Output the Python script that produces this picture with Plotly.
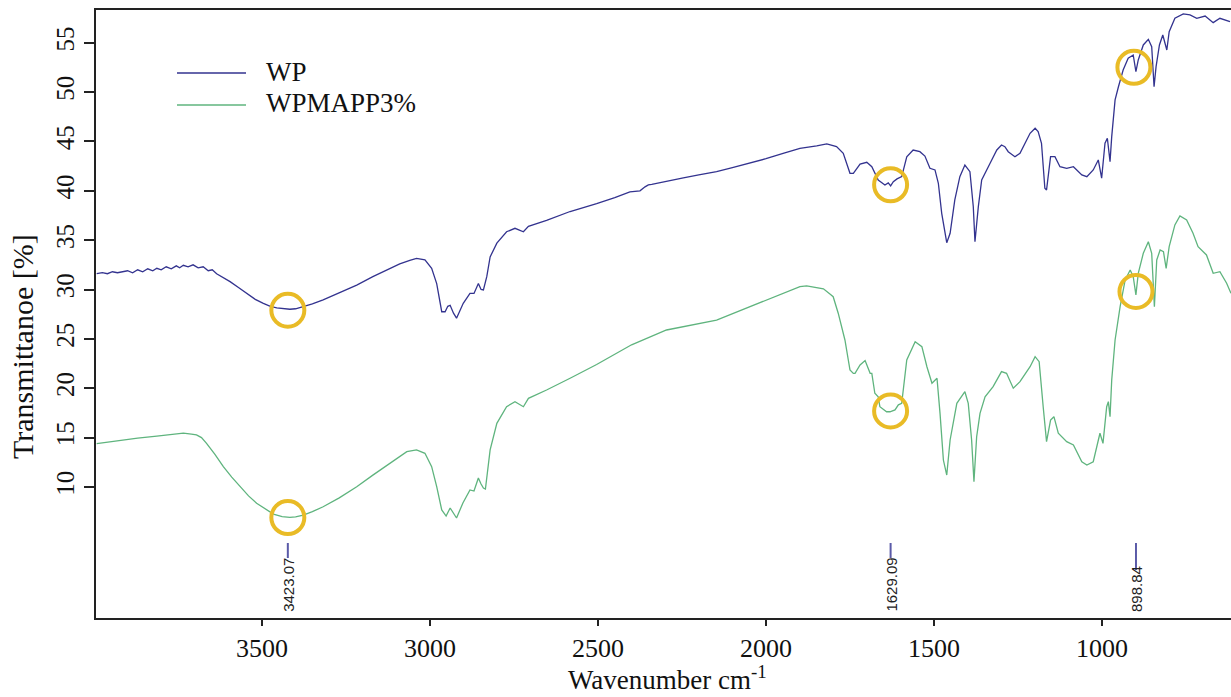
import plotly.graph_objects as go

# ---------------- data ----------------
wp_wn = [3992, 3975, 3960, 3945, 3930, 3913, 3900, 3885, 3870, 3855, 3840, 3825, 3813, 3800,
         3785, 3770, 3755, 3745, 3734, 3720, 3705, 3690, 3675, 3660, 3648, 3635, 3620, 3605,
         3595, 3570, 3545, 3520, 3496, 3475, 3456, 3435, 3417, 3400, 3377, 3350, 3318, 3270,
         3218, 3170, 3119, 3090, 3060, 3040, 3015, 2995, 2980, 2965, 2955, 2947, 2940, 2930,
         2921, 2910, 2901, 2881, 2869, 2856, 2848, 2841, 2831, 2821, 2801, 2772, 2747, 2722,
         2707, 2653, 2583, 2504, 2450, 2405, 2375, 2360, 2350, 2340, 2300, 2246, 2200, 2147,
         2100, 2048, 2000, 1949, 1899, 1849, 1819, 1790, 1770, 1750, 1740, 1720, 1700, 1685,
         1666, 1646, 1636, 1629, 1621, 1610, 1596, 1581, 1562, 1542, 1527, 1512, 1497, 1487,
         1477, 1462, 1452, 1438, 1423, 1408, 1393, 1383, 1378, 1368, 1358, 1333, 1313, 1299,
         1289, 1279, 1259, 1244, 1214, 1199, 1190, 1180, 1170, 1165, 1153, 1140, 1125, 1105,
         1085, 1060, 1045, 1026, 1011, 1001, 991, 984, 976, 971, 961, 951, 937, 922, 907, 899,
         892, 877, 862, 852, 845, 839, 829, 819, 812, 807, 800, 783, 758, 738, 718, 693, 669,
         649, 619]
wp_t = [31.6, 31.7, 31.6, 31.8, 31.7, 31.8, 31.9, 31.7, 32.0, 31.8, 32.1, 31.9, 32.15, 32.0,
        32.3, 32.1, 32.4, 32.2, 32.45, 32.3, 32.5, 32.2, 32.3, 31.9, 32.0, 31.6, 31.3, 31.0,
        30.8, 30.2, 29.6, 29.0, 28.6, 28.3, 28.15, 28.05, 28.0, 28.05, 28.25, 28.55, 28.95, 29.7,
        30.45, 31.3, 32.15, 32.6, 32.95, 33.15, 33.0, 32.15, 30.6, 27.75, 27.75, 28.3, 28.4, 27.6,
        27.1, 27.9, 28.6, 29.6, 29.6, 30.6, 30.0, 29.95, 31.3, 33.3, 34.7, 35.85, 36.2, 35.85,
        36.4, 37.0, 37.9, 38.7, 39.3, 39.9, 40.0, 40.4, 40.6, 40.65, 40.95, 41.3, 41.6, 41.95,
        42.35, 42.8, 43.25, 43.8, 44.3, 44.55, 44.75, 44.47, 43.8, 41.77, 41.77, 42.71, 42.89, 42.44,
        41.09, 40.59, 40.8, 40.5, 40.92, 41.2, 41.43, 43.45, 44.13, 43.96, 43.52, 42.28, 42.11, 40.76,
        37.72, 34.74, 35.69, 39.07, 41.43, 42.61, 41.93, 38.39, 34.84, 38.39, 41.09, 42.78, 44.13, 44.64,
        44.47, 43.96, 43.45, 43.8, 45.82, 46.33, 45.99, 44.81, 40.25, 40.08, 43.45, 43.45, 42.44, 42.28,
        42.44, 41.6, 41.43, 42.11, 43.12, 41.27, 44.81, 45.32, 42.95, 45.48, 49.2, 50.54, 52.23, 53.42, 53.75, 52.06,
        53.25, 54.77, 55.34, 54.59, 50.54, 52.57, 54.77, 55.78, 54.94, 54.26, 56.11, 57.47, 57.91, 57.81, 57.47, 57.7, 57.03,
        57.47, 57.13]

wpm_wn = [3992, 3950, 3913, 3870, 3813, 3770, 3734, 3710, 3695, 3680, 3665, 3640, 3615, 3590,
          3565, 3540, 3516, 3490, 3466, 3440, 3417, 3400, 3377, 3350, 3318, 3270, 3218, 3170,
          3119, 3090, 3069, 3040, 3015, 2995, 2980, 2965, 2952, 2940, 2921, 2902, 2881, 2869,
          2856, 2848, 2841, 2835, 2821, 2801, 2772, 2747, 2722, 2707, 2653, 2583, 2504, 2400,
          2296, 2147, 2048, 1949, 1899, 1879, 1829, 1806, 1800, 1785, 1770, 1765, 1755, 1750,
          1740, 1735, 1720, 1705, 1690, 1685, 1676, 1666, 1661, 1641, 1631, 1616, 1606, 1596,
          1581, 1556, 1536, 1521, 1506, 1491, 1482, 1472, 1462, 1452, 1432, 1408, 1398, 1388,
          1381, 1373, 1363, 1348, 1324, 1299, 1284, 1264, 1244, 1214, 1199, 1187, 1175, 1165,
          1153, 1143, 1130, 1105, 1085, 1060, 1045, 1026, 1006, 997, 986, 981, 976, 971, 961,
          946, 931, 916, 907, 899, 892, 877, 862, 852, 844, 837, 827, 817, 809, 800, 783, 768,
          748, 729, 714, 689, 669, 649, 629, 616]
wpm_t = [14.4, 14.6, 14.75, 14.95, 15.15, 15.3, 15.45, 15.35, 15.27, 15.0, 14.42, 13.3, 12.06, 11.0,
         10.03, 9.1, 8.35, 7.75, 7.26, 7.0, 6.93, 6.98, 7.16, 7.5, 8.0, 8.9, 10.03, 11.2,
         12.4, 13.0, 13.57, 13.75, 13.41, 12.06, 10.03, 7.67, 7.06, 7.87, 6.86, 8.38, 9.7, 9.59,
         10.91, 10.3, 9.9, 9.8, 13.75, 16.45, 18.13, 18.64, 18.13, 18.98, 19.82, 21.01, 22.4, 24.4,
         25.9, 26.91, 28.26, 29.62, 30.29, 30.36, 30.07, 29.45, 29.27, 27.6, 25.57, 24.89, 22.86, 21.85,
         21.51, 21.51, 22.36, 22.8, 21.51, 21.51, 19.49, 19.14, 18.13, 17.62, 17.62, 17.8, 18.32, 18.47,
         22.86, 24.72, 24.21, 22.18, 20.5, 21.01, 17.46, 12.73, 11.21, 14.76, 18.47, 19.65, 18.47, 14.76,
         10.54, 15.09, 17.46, 19.14, 20.16, 21.68, 21.51, 20.0, 20.67, 22.18, 23.2, 22.69, 18.13, 14.59,
         16.78, 17.12, 15.44, 14.59, 14.25, 12.56, 12.23, 12.56, 15.44, 14.42, 18.13, 18.64, 17.12, 20.84, 24.89,
         28.26, 30.97, 31.98, 31.3, 29.45, 31.64, 33.67, 34.84, 33.67, 28.26, 32.99, 34.0, 33.83, 32.15, 34.34, 36.54, 37.45,
         37.04, 35.69, 34.34, 33.5, 31.64, 31.81, 30.63, 29.62]

series_names = ["WP", "WPMAPP3%"]
peak_labels = [3423.07, 1629.09, 898.84]
circle_x_wp = [3423.07, 1629.09, 905.0]
circle_y_wp = [27.9, 40.6, 52.5]
circle_x_wpm = [3423.07, 1629.09, 898.84]
circle_y_wpm = [6.9, 17.7, 29.8]
x_ticks = [3500, 3000, 2500, 2000, 1500, 1000]
y_ticks = [10, 15, 20, 25, 30, 35, 40, 45, 50, 55]

# ---------------- styling ----------------
C_WP = "#33338f"
C_WPM = "#5fb47e"
C_CIRCLE = "#e9bb26"
C_PEAK = "#5a5aa8"
SERIF = "Liberation Serif"

W, H = 1231, 697
ML, MR, MT, MB = 96, 0, 10, 79
PW, PH = W - ML - MR, H - MT - MB

def px_x(px):
    return (px - ML) / PW

def px_y(py):
    return (H - MB - py) / PH

fig = go.Figure()
fig.add_trace(go.Scatter(x=wp_wn, y=wp_t, mode="lines", name=series_names[0],
                         line=dict(color=C_WP, width=1.3), showlegend=False))
fig.add_trace(go.Scatter(x=wpm_wn, y=wpm_t, mode="lines", name=series_names[1],
                         line=dict(color=C_WPM, width=1.3), showlegend=False))

shapes = []
annotations = []

# highlight circles
for xs, ys in ((circle_x_wp, circle_y_wp), (circle_x_wpm, circle_y_wpm)):
    for cx, cy in zip(xs, ys):
        shapes.append(dict(type="circle", xref="x", yref="y", xsizemode="pixel", ysizemode="pixel",
                           xanchor=cx, yanchor=cy, x0=-16.5, x1=16.5, y0=-16.5, y1=16.5,
                           line=dict(color=C_CIRCLE, width=4)))

# peak markers + labels
for pk in peak_labels:
    bottom = 570 if pk < 1000 else 558
    shapes.append(dict(type="line", xref="x", yref="paper", x0=pk, x1=pk,
                       y0=px_y(543), y1=px_y(bottom), line=dict(color=C_PEAK, width=2)))
    annotations.append(dict(x=pk, y=px_y(614), xref="x", yref="paper", text=f"{pk:.2f}",
                            textangle=-90, showarrow=False, xanchor="center", yanchor="bottom",
                            font=dict(family="Liberation Sans", size=15, color="#222")))

# manual legend
legend_rows = [(series_names[0], C_WP, 73, 72), (series_names[1], C_WPM, 105, 103)]
for name, col, ly, ty in legend_rows:
    shapes.append(dict(type="line", xref="paper", yref="paper", x0=px_x(177), x1=px_x(246),
                       y0=px_y(ly), y1=px_y(ly), line=dict(color=col, width=1.6)))
    annotations.append(dict(x=px_x(264), y=px_y(ty), xref="paper", yref="paper", text=name,
                            showarrow=False, xanchor="left", yanchor="middle",
                            font=dict(family=SERIF, size=27, color="#111")))

# axis titles
annotations.append(dict(x=px_x(22), y=px_y(347), xref="paper", yref="paper",
                        text="Transmittanoe [%]", textangle=-90, showarrow=False,
                        xanchor="center", yanchor="middle",
                        font=dict(family=SERIF, size=30, color="#111")))
annotations.append(dict(x=px_x(667), y=px_y(678), xref="paper", yref="paper",
                        text="Wavenumber cm<sup>-1</sup>", showarrow=False,
                        xanchor="center", yanchor="middle",
                        font=dict(family=SERIF, size=27, color="#111")))

fig.update_layout(
    width=W, height=H,
    margin=dict(l=ML, r=MR, t=MT, b=MB),
    paper_bgcolor="white", plot_bgcolor="white",
    font=dict(family=SERIF, color="#111"),
    shapes=shapes, annotations=annotations,
    xaxis=dict(range=[3994, 616], tickvals=x_ticks, ticks="outside", ticklen=6, tickwidth=1.5,
               tickcolor="#222", showline=True, linecolor="#222", linewidth=1.8, mirror=True,
               showgrid=False, zeroline=False, tickfont=dict(family=SERIF, size=26, color="#111")),
    yaxis=dict(range=[-3.27, 58.31], tickvals=y_ticks, ticks="outside", ticklen=10, tickwidth=1.5,
               tickcolor="#222", showline=True, linecolor="#222", linewidth=1.8, mirror=False,
               showgrid=False, zeroline=False, tickangle=-90,
               tickfont=dict(family=SERIF, size=25, color="#111")),
)

fig.write_html("out.html")
